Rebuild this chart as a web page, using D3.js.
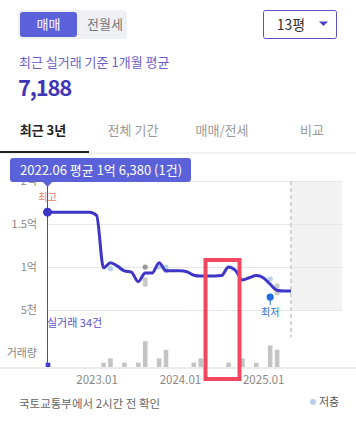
<!DOCTYPE html>
<html><head><meta charset="utf-8">
<script src="https://cdn.jsdelivr.net/npm/d3@7/dist/d3.min.js"></script>
<style>
html,body{margin:0;padding:0;background:#fff;}
svg{display:block;font-family:"Noto Sans CJK KR","Noto Sans",sans-serif;}
</style></head><body>
<svg id="c" width="356" height="425"></svg>
<script>
// ---- data ----
const monthLabels = ["2022.06","2022.07","2022.08","2022.09","2022.10","2022.11","2022.12",
 "2023.01","2023.02","2023.03","2023.04","2023.05","2023.06","2023.07","2023.08","2023.09","2023.10","2023.11","2023.12",
 "2024.01","2024.02","2024.03","2024.04","2024.05","2024.06","2024.07","2024.08","2024.09","2024.10","2024.11","2024.12",
 "2025.01","2025.02","2025.03","2025.04","2025.05"];
// monthly average price (억)
const avgPrice = [1.638,1.638,1.638,1.638,1.638,1.638,1.638,
 1.60,0.99,1.05,1.01,0.955,0.94,0.83,0.93,0.93,1.05,0.955,0.955,
 0.955,0.945,0.905,0.895,0.895,0.895,0.90,1.00,0.96,0.85,0.875,0.90,
 0.875,0.80,0.73,0.72,0.72];
// trade counts per month
const tradeMonth = [0,8,9,11,13,14,16,17,21,22,26,28,30,32,33];
const tradeCount = [1,1,2,1,1,6,2,4,1,2,1,2,1,5,4];
// individual trades (month index, price 억, floor type)
const dotMonth = [9,14,14,14,16,17,17,32,33,33];
const dotPrice = [0.98,1.00,0.85,0.80,1.00,1.00,0.955,0.86,0.78,0.70];
const dotType  = ["low","mid","other","other","low","low","low","low","other","other"];
const lowestMonth = 32, lowestPrice = 0.65;
const yTickValues = [2,1.5,1,0.5];
const yTickLabels = ["2억","1.5억","1억","5천"];
const xTickValues = [7,19,31];
const tabs = ["최근 3년","전체 기간","매매/전세","비교"];
const tooltipText = "2022.06 평균 1억 6,380 (1건)";

// ---- drawing ----
const svg = d3.select("#c");
const purple = "#5b61d8", lineC = "#3e36c6";

// header segmented control
svg.append("rect").attr("x",18).attr("y",10).attr("width",109).attr("height",29).attr("rx",4).attr("fill","#eef0f3");
svg.append("rect").attr("x",20).attr("y",12).attr("width",57).attr("height",25).attr("rx",3).attr("fill",purple);
svg.append("text").attr("x",48.5).attr("y",29).attr("text-anchor","middle").attr("font-size",13).attr("fill","#fff").text("매매");
svg.append("text").attr("x",105).attr("y",29).attr("text-anchor","middle").attr("font-size",13).attr("fill","#777").text("전월세");
// dropdown
svg.append("rect").attr("x",263.5).attr("y",10.5).attr("width",73).attr("height",28).attr("rx",2).attr("fill","#fff").attr("stroke","#5a52c0");
svg.append("text").attr("x",291).attr("y",29.5).attr("text-anchor","middle").attr("font-size",14).attr("fill","#333").text("13평");
svg.append("path").attr("d","M319,21.5 L328,21.5 L323.5,26 Z").attr("fill","#4a40c8");

svg.append("text").attr("x",19).attr("y",67).attr("font-size",13).attr("fill","#6a62c8").text("최근 실거래 기준 1개월 평균");
svg.append("text").attr("x",18).attr("y",96).attr("font-size",22).attr("font-weight","bold").attr("letter-spacing",-1.2).attr("fill","#3f37b5").text("7,188");

// tabs
const tabX = [43,133,222,312];
tabs.forEach((t,i)=>{
  svg.append("text").attr("x",tabX[i]).attr("y",135).attr("text-anchor","middle").attr("font-size",13)
    .attr("font-weight", i===0?"bold":"normal").attr("fill", i===0?"#222":"#999").text(t);
});
svg.append("rect").attr("x",0).attr("y",152.5).attr("width",356).attr("height",1).attr("fill","#e6e6e6");
svg.append("rect").attr("x",0).attr("y",151).attr("width",89).attr("height",2).attr("fill","#222");

// scales
const x = d3.scaleLinear().domain([0,35]).range([48,291]);
const y = d3.scaleLinear().domain([0,2]).range([353,181]);
const yb = d3.scaleLinear().domain([0,6]).range([367,341.2]);

// future shaded area
svg.append("rect").attr("x",x(35)).attr("y",y(2)).attr("width",342-x(35)).attr("height",y(0.5)-y(2)).attr("fill","#f3f3f3");

// gridlines
const grid = svg.append("g");
yTickValues.forEach(v=>{
  grid.append("line").attr("x1",47).attr("x2",342).attr("y1",Math.round(y(v))+0.5).attr("y2",Math.round(y(v))+0.5)
    .attr("stroke","#e6e6e6").attr("stroke-width",1);
});
// y axis labels
const yAxis = d3.axisLeft(y).tickValues(yTickValues).tickFormat((d,i)=>yTickLabels[i]).tickSize(0).tickPadding(0);
const ya = svg.append("g").attr("transform","translate(37,0)").call(yAxis);
ya.select(".domain").remove();
ya.selectAll("text").attr("font-size",11).attr("fill","#888").attr("font-family","'Noto Sans CJK KR',sans-serif").attr("dy","0.35em");
svg.append("text").attr("x",37).attr("y",357).attr("text-anchor","end").attr("font-size",11).attr("fill","#888").text("거래량");

// dashed "now" line
svg.append("line").attr("x1",x(35)).attr("x2",x(35)).attr("y1",y(2)).attr("y2",337).attr("stroke","#d4d4d4").attr("stroke-width",2).attr("stroke-dasharray","4,3");

// baseline
svg.append("rect").attr("x",0).attr("y",367).attr("width",356).attr("height",2).attr("fill","#ececec");

// bars
svg.append("g").selectAll("rect").data(tradeMonth).join("rect")
  .attr("x",(d)=>x(d)-2.3).attr("width",4.6)
  .attr("y",(d,i)=>yb(tradeCount[i])).attr("height",(d,i)=>367-yb(tradeCount[i]))
  .attr("fill",(d,i)=>i===0?lineC:"#c4c4c4");

// x axis labels
const xAxis = d3.axisBottom(x).tickValues(xTickValues).tickFormat(d=>monthLabels[d]).tickSize(0).tickPadding(0);
const xa = svg.append("g").attr("transform","translate(0,380)").call(xAxis);
xa.select(".domain").remove();
xa.selectAll("text").attr("font-size",11.5).attr("fill","#888").attr("font-family","'Noto Sans CJK KR',sans-serif").attr("dy","0.35em");

// cursor line
svg.append("line").attr("x1",x(0)-0.5).attr("x2",x(0)-0.5).attr("y1",185).attr("y2",366).attr("stroke","#555").attr("stroke-width",1);

// scatter dots
const dotColor = {low:"#b7cfec", mid:"#999", other:"#c9c9c9"};
svg.append("g").selectAll("circle").data(dotMonth).join("circle")
  .attr("cx",d=>x(d)).attr("cy",(d,i)=>y(dotPrice[i])).attr("r",2.6)
  .attr("fill",(d,i)=>dotColor[dotType[i]]);

// price line
const line = d3.line().x((d,i)=>x(i)).y(d=>y(d)).curve(d3.curveMonotoneX);
svg.append("path").datum(avgPrice).attr("d",line).attr("fill","none").attr("stroke",lineC).attr("stroke-width",3).attr("stroke-linejoin","round");

// lowest marker
svg.append("line").attr("x1",x(lowestMonth)).attr("x2",x(lowestMonth)).attr("y1",y(lowestPrice)).attr("y2",y(lowestPrice)+8).attr("stroke","#2a6fd8").attr("stroke-width",1);
svg.append("circle").attr("cx",x(lowestMonth)).attr("cy",y(lowestPrice)).attr("r",3.6).attr("fill","#1f6fe0");
svg.append("text").attr("x",x(lowestMonth)).attr("y",y(lowestPrice)+19).attr("text-anchor","middle").attr("font-size",10).attr("fill","#2a6fd8").text("최저");

// highest/current marker
svg.append("circle").attr("cx",x(0)-0.5).attr("cy",y(avgPrice[0])).attr("r",4.5).attr("fill",lineC);
svg.append("text").attr("x",x(0)-0.5).attr("y",201).attr("text-anchor","middle").attr("font-size",10).attr("fill","#e8826a").text("최고");

// 실거래 label
svg.append("text").attr("x",47).attr("y",327).attr("font-size",11).attr("fill","#5b52d0").text("실거래 " + d3.sum(tradeCount) + "건");

// tooltip
svg.append("rect").attr("x",10).attr("y",158).attr("width",181).attr("height",24).attr("rx",3).attr("fill",purple);
svg.append("path").attr("d",`M${x(0)-5.5},181.5 L${x(0)+4.5},181.5 L${x(0)-0.5},187 Z`).attr("fill",purple);
svg.append("text").attr("x",20).attr("y",175).attr("font-size",13).attr("fill","#fff").text(tooltipText);

// red highlight box
svg.append("rect").attr("x",205.5).attr("y",260).attr("width",34).attr("height",119).attr("fill","none").attr("stroke","#f2475e").attr("stroke-width",4);

// footer
svg.append("text").attr("x",19).attr("y",408).attr("font-size",11.5).attr("fill","#666").text("국토교통부에서 2시간 전 확인");
svg.append("circle").attr("cx",313).attr("cy",402).attr("r",3).attr("fill","#b7cfec");
svg.append("text").attr("x",319).attr("y",406).attr("font-size",11).attr("fill","#555").text("저층");
</script>
</body></html>
